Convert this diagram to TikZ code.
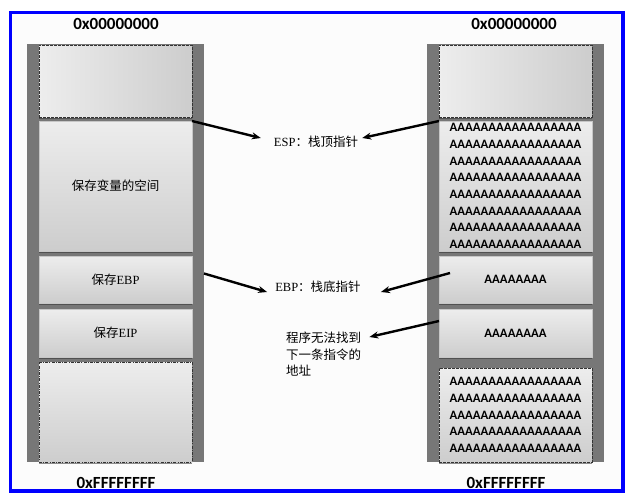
\documentclass[tikz,border=0pt]{standalone}
\usepackage{fontspec}
\setmainfont{Liberation Serif}
\newfontfamily\cjk{Noto Sans CJK SC}
\newfontfamily\hexfont{Carlito}
\usetikzlibrary{arrows.meta,shadows}

\definecolor{frameBlue}{HTML}{0000FF}
\definecolor{paper}{HTML}{FCFCFC}
\definecolor{barGray}{HTML}{777777}
\definecolor{cellTop}{HTML}{EDEDED}
\definecolor{cellBot}{HTML}{CDCDCD}

% one row of the overflow pattern
\newcommand{\arow}{AAAAAAAAAAAAAAAAA}

\tikzset{
  stackbar/.style={fill=barGray},
  memcell/.style={anchor=north west, inner sep=0pt, outer sep=0pt,
    minimum width=153pt, align=center, draw=black!22, line width=0.6pt,
    top color=cellTop, bottom color=cellBot,
    drop shadow={shadow xshift=0pt, shadow yshift=-1.6pt, opacity=0.55, fill=black!80},
    font=\fontsize{12.5}{15}\selectfont},
  gapcell/.style={memcell, draw=black!80, dash pattern=on 2.6pt off 1.4pt},
  hshade/.style={left color=cellTop, right color=cellBot},
  fillcell/.style={font=\hexfont\bfseries\fontsize{12.8}{16.7}\selectfont},
  hexlabel/.style={font=\hexfont\bfseries\fontsize{17}{19}\selectfont, inner sep=1pt},
  ptrlabel/.style={inner sep=3pt, font=\fontsize{12.5}{16.5}\selectfont},
  ptrarrow/.style={-{Stealth[length=9pt,width=7pt]}, line width=2.4pt, black},
}

\begin{document}
\begin{tikzpicture}[x=1pt, y=-1pt]
  \useasboundingbox (0,0) rectangle (631,498);
  \fill[white] (0,0) rectangle (631,498);
  \draw[frameBlue, line width=3.3pt, fill=paper] (10.5,12.5) rectangle (623,491);

  % address labels
  \node[hexlabel] (lLow)  at (116,24)  {0x00000000};
  \node[hexlabel] (rLow)  at (514,24)  {0x00000000};
  \node[hexlabel] (lHigh) at (116,483) {0xFFFFFFFF};
  \node[hexlabel] (rHigh) at (506,483) {0xFFFFFFFF};

  % pointer labels
  \node[ptrlabel] (esp) at (316,142) {ESP{\cjk ：栈顶指针}};
  \node[ptrlabel] (ebp) at (318,287) {EBP{\cjk ：栈底指针}};
  \node[ptrlabel, anchor=north west, align=left] (prog) at (283,329)
    {\cjk 程序无法找到\\\cjk 下一条指令的\\\cjk 地址};

  % normal stack
  \fill[stackbar] (27,44) rectangle (204,462);
  \node[gapcell, hshade, minimum height=72pt] (lTop) at (39,45) {};
  \node[memcell, minimum height=130pt] (lVar) at (39,121) {\cjk 保存变量的空间};
  \node[memcell, minimum height=47pt] (lEbp) at (39,256) {{\cjk 保存}EBP};
  \node[memcell, minimum height=48pt] (lEip) at (39,309) {{\cjk 保存}EIP};
  \node[gapcell, dash pattern=on 3pt off 1.2pt on 1pt off 1.2pt,
        minimum height=100pt] (lBot) at (39,362) {};

  % overflowed stack
  \fill[stackbar] (427,44) rectangle (604,462);
  \node[gapcell, hshade, minimum height=72pt] (rTop) at (439,45) {};
  \node[memcell, fillcell, minimum height=130pt] (rVar) at (439,121)
    {\arow\\\arow\\\arow\\\arow\\\arow\\\arow\\\arow\\\arow};
  \node[memcell, fillcell, minimum height=47pt] (rEbp) at (439,256) {AAAAAAAA};
  \node[memcell, fillcell, minimum height=48pt] (rEip) at (439,309) {AAAAAAAA};
  \node[gapcell, fillcell, minimum height=94pt] (rBot) at (439,368)
    {\arow\\\arow\\\arow\\\arow\\\arow};

  % pointers
  \draw[ptrarrow] (lVar.north east) -- ([xshift=-10pt,yshift=4pt]esp.west);
  \draw[ptrarrow] (rVar.north west) -- ([xshift=1pt,yshift=4pt]esp.east);
  \draw[ptrarrow] ([xshift=12pt,yshift=6pt]lEbp.east) -- ([xshift=-5pt,yshift=-5pt]ebp.west);
  \draw[ptrarrow] ([xshift=11pt,yshift=6.5pt]rEbp.west) -- ([xshift=17pt,yshift=-5pt]ebp.east);
  \draw[ptrarrow] ([yshift=12pt]rEip.west) -- ([xshift=5pt,yshift=-8pt]prog.north east);
\end{tikzpicture}
\end{document}
